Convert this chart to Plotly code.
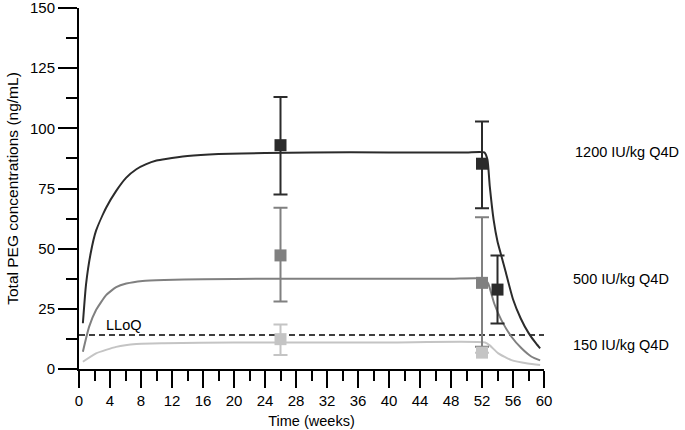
import plotly.graph_objects as go

# model curves
weeks_1200 = [0.5, 0.9, 1.5, 2.2, 3.5, 4.8, 6.1, 7.4, 8.6, 10, 11.2, 14, 18, 24, 30, 40, 50, 52.3, 52.7,
              53, 53.5, 54, 54.5, 55, 56, 57, 58, 59, 59.5]
conc_1200 = [19, 35, 48, 57.5, 67, 74, 79.5, 83, 85, 86.6, 87.3, 88.5, 89.3, 89.7, 90, 90, 90, 90, 87,
             76, 62, 53, 47, 41, 29, 21, 15, 10.5, 8.6]

weeks_500 = [0.5, 1.3, 2.2, 3.5, 4.8, 6.1, 8.2, 11, 16, 24, 40, 48, 52.3, 52.8, 53.6, 54.5, 55.8, 57.1, 58.4, 59.5]
conc_500 = [7.2, 17.5, 24.5, 30.7, 34, 35.5, 36.6, 37, 37.3, 37.5, 37.5, 37.5, 37.5, 35.5, 27, 20.3, 13.4, 8.6, 5.1, 3.6]

weeks_150 = [0.5, 2.2, 4.8, 7.4, 11, 20, 40, 52.4, 53, 54.1, 55.8, 57.9, 59.5]
conc_150 = [3, 6.5, 9.2, 10.4, 10.7, 11, 11, 11, 9.8, 6.5, 3.7, 2.3, 1.7]

# observed means with error bars
obs_weeks_1200 = [26, 52, 54]
obs_mean_1200 = [93, 85.3, 33]
obs_hi_1200 = [113, 102.8, 47.2]
obs_lo_1200 = [72.5, 66.8, 18.9]

obs_weeks_500 = [26, 52]
obs_mean_500 = [47.2, 35.8]
obs_hi_500 = [67, 63.1]
obs_lo_500 = [28, 9.2]

obs_weeks_150 = [26, 52]
obs_mean_150 = [12.4, 6.8]
obs_hi_150 = [18.5, 6.8]
obs_lo_150 = [5.8, 6.8]

lloq = 14.1
dose_labels = ["1200 IU/kg Q4D", "500 IU/kg Q4D", "150 IU/kg Q4D"]
label_y = [90, 37.3, 10]

FONT = "Liberation Sans, Arial, sans-serif"
colors = ["#2b2b2b", "#808080", "#c4c4c4"]

fig = go.Figure()

# LLoQ line
fig.add_trace(go.Scatter(x=[0, 60], y=[lloq, lloq], mode="lines",
                         line=dict(color="black", width=1.6, dash="6px,4px"),
                         showlegend=False, hoverinfo="skip"))

curves = [(weeks_1200, conc_1200), (weeks_500, conc_500), (weeks_150, conc_150)]
for (wx, cy), col in zip(curves, colors):
    fig.add_trace(go.Scatter(x=wx, y=cy, mode="lines",
                             line=dict(color=col, width=2, shape="spline", smoothing=0.5),
                             showlegend=False))

obs = [
    (obs_weeks_1200, obs_mean_1200, obs_hi_1200, obs_lo_1200),
    (obs_weeks_500, obs_mean_500, obs_hi_500, obs_lo_500),
    (obs_weeks_150, obs_mean_150, obs_hi_150, obs_lo_150),
]
for (wx, m, hi, lo), col in zip(obs, colors):
    fig.add_trace(go.Scatter(
        x=wx, y=m, mode="markers",
        marker=dict(symbol="square", size=12, color=col),
        error_y=dict(type="data", symmetric=False,
                     array=[h - v for h, v in zip(hi, m)],
                     arrayminus=[v - l for l, v in zip(lo, m)],
                     color=col, thickness=2, width=7),
        showlegend=False))

# dose labels to the right of the plot area
for txt, yv, xp in zip(dose_labels, label_y, [1.062, 1.057, 1.058]):
    fig.add_annotation(x=xp, y=yv, xref="paper", yref="y", text=txt, showarrow=False,
                       xanchor="left", yanchor="middle",
                       font=dict(family=FONT, size=14.5, color="black"))

fig.add_annotation(x=5.8, y=18.2, xref="x", yref="y", text="LLoQ", showarrow=False,
                   font=dict(family=FONT, size=14.5, color="black"))

fig.update_layout(
    width=685, height=430,
    margin=dict(l=79, r=141, t=8, b=61),
    plot_bgcolor="white", paper_bgcolor="white",
    font=dict(family=FONT, size=14.5, color="black"),
    xaxis=dict(range=[0, 60], dtick=4, tick0=0, showgrid=False, zeroline=False,
               showline=True, linecolor="black", linewidth=2, automargin=False,
               ticks="outside", ticklen=17, tickwidth=2, tickcolor="black",
               tickfont=dict(family=FONT, size=15, color="black"),
               minor=dict(dtick=2, tick0=0, ticks="outside", ticklen=10, tickwidth=2,
                          tickcolor="black", showgrid=False),
               title=dict(text="Time (weeks)", standoff=8,
                          font=dict(family=FONT, size=14.5, color="black"))),
    yaxis=dict(range=[0, 150], dtick=25, tick0=0, showgrid=False, zeroline=False,
               showline=True, linecolor="black", linewidth=2, automargin=False,
               ticks="outside", ticklen=19, tickwidth=2, tickcolor="black",
               ticklabeloverflow="allow",
               tickfont=dict(family=FONT, size=15, color="black"),
               minor=dict(dtick=12.5, tick0=0, ticks="outside", ticklen=11, tickwidth=2,
                          tickcolor="black", showgrid=False),
               title=dict(text="Total PEG concentrations (ng/mL)", standoff=8,
                          font=dict(family=FONT, size=15.5, color="black"))),
)

fig.write_html("out.html", config={"displayModeBar": False},
               post_script="document.body.style.margin='0';")
